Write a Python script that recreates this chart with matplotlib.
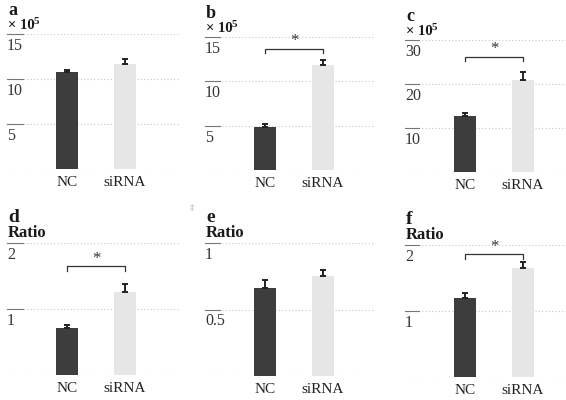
import matplotlib
matplotlib.use("Agg")
import matplotlib.pyplot as plt

plt.rcParams['font.family'] = ['Liberation Serif', 'DejaVu Serif']

groups = ['NC', 'siRNA']

# panel values (means, upper error)
a_mean = [10.8, 11.7]
a_err = [0.25, 0.5]
b_mean = [4.8, 11.8]
b_err = [0.35, 0.6]
c_mean = [12.7, 20.9]
c_err = [0.7, 1.8]
d_mean = [0.71, 1.26]
d_err = [0.05, 0.12]
e_mean = [0.66, 0.75]
e_err = [0.06, 0.05]
f_mean = [1.20, 1.65]
f_err = [0.07, 0.10]

a_ticks = [5, 10, 15]
b_ticks = [5, 10, 15]
c_ticks = [10, 20, 30]
d_ticks = [1, 2]
e_ticks = [0.5, 1]
f_ticks = [1, 2]
e_tick_labels = ['0.5', '1']

# significance bracket heights (None = no bracket)
a_sig = None
b_sig = 13.7
c_sig = 26.2
d_sig = 1.65
e_sig = None
f_sig = 1.86

W, H = 566, 400
fig = plt.figure(figsize=(W / 100, H / 100), dpi=100)
fig.patch.set_facecolor('white')

dark = '#3d3d3d'
light = '#e6e6e6'


def px_axes(left, right, top, bottom):
    return fig.add_axes([left / W, 1 - bottom / H, (right - left) / W, (bottom - top) / H])


def panel(left, right, top, bottom, ymax, means, errs, ticks, labels, sig, letter, unit):
    ax = px_axes(left, right, top, bottom)
    w = right - left
    ax.set_xlim(-60 / 58, (w - 60) / 58)
    ax.set_ylim(0, ymax)
    for s in ax.spines.values():
        s.set_visible(False)
    x = [0, 1]
    ax.bar(x, means, width=0.37, color=[dark, light], zorder=2)
    ax.errorbar(x, means, yerr=[[0, 0], errs], fmt='none', ecolor='#222222',
                elinewidth=1.4, capsize=2.5, capthick=1.4, zorder=3)
    # faint dotted grid, baseline included
    for t in [0] + list(ticks):
        ax.axhline(t, color='#c8c8c8', lw=0.8, ls=(0, (1, 2)), zorder=1)
    # short dash + label under each gridline
    tr = ax.get_yaxis_transform()
    for t, lab in zip(ticks, labels):
        ax.plot([0, 0.09], [t, t], transform=tr, color='#777777', lw=0.8, clip_on=False)
        ax.text(0.0, t - ymax * 0.03, lab, transform=tr, ha='left', va='top',
                fontsize=11.5, color='#333333')
    ax.set_yticks([])
    ax.set_xticks(x)
    ax.set_xticklabels(groups, fontsize=11, color='#222222')
    ax.tick_params(axis='x', length=0, pad=5)
    if sig is not None:
        leg = ymax * 0.035
        ax.plot([0, 0, 1, 1], [sig - leg, sig, sig, sig - leg], color='#333333', lw=0.9,
                clip_on=False)
        ax.text(0.5, sig - ymax * 0.005, '*', ha='center', va='bottom', fontsize=12,
                color='#333333')
    if unit == 'Ratio':
        fig.text((left + 1) / W, 1 - (top - 21) / H, letter, fontsize=14, fontweight='bold',
                 va='baseline', ha='left', color='#1a1a1a')
        fig.text((left + 1) / W, 1 - (top - 6) / H, unit, fontsize=12, fontweight='bold',
                 va='baseline', ha='left', color='#1a1a1a')
    else:
        fig.text((left + 1) / W, 1 - (top - 19) / H, letter, fontsize=13, fontweight='bold',
                 va='baseline', ha='left', color='#1a1a1a')
        fig.text((left + 1) / W, 1 - (top - 5) / H, '× 10', fontsize=10.5, fontweight='bold',
                 va='baseline', ha='left', color='#1a1a1a')
        fig.text((left + 27) / W, 1 - (top - 10) / H, unit, fontsize=8, fontweight='bold',
                 va='baseline', ha='left', color='#1a1a1a')
    return ax


panel(7, 180, 34, 169, 15, a_mean, a_err, a_ticks, [str(t) for t in a_ticks], a_sig, 'a', '5')
panel(205, 375, 37, 170, 15, b_mean, b_err, b_ticks, [str(t) for t in b_ticks], b_sig, 'b', '5')
panel(405, 566, 40, 172, 30, c_mean, c_err, c_ticks, [str(t) for t in c_ticks], c_sig, 'c', '5')
panel(7, 180, 243, 375, 2, d_mean, d_err, d_ticks, [str(t) for t in d_ticks], d_sig, 'd', 'Ratio')
panel(205, 375, 243, 376, 1, e_mean, e_err, e_ticks, e_tick_labels, e_sig, 'e', 'Ratio')
panel(405, 566, 245, 377, 2, f_mean, f_err, f_ticks, [str(t) for t in f_ticks], f_sig, 'f', 'Ratio')

fig.text(192 / W, 1 - 208 / H, '‡', fontsize=6, color='#999999', ha='center', va='center')

fig.savefig('out.png', dpi=100)
